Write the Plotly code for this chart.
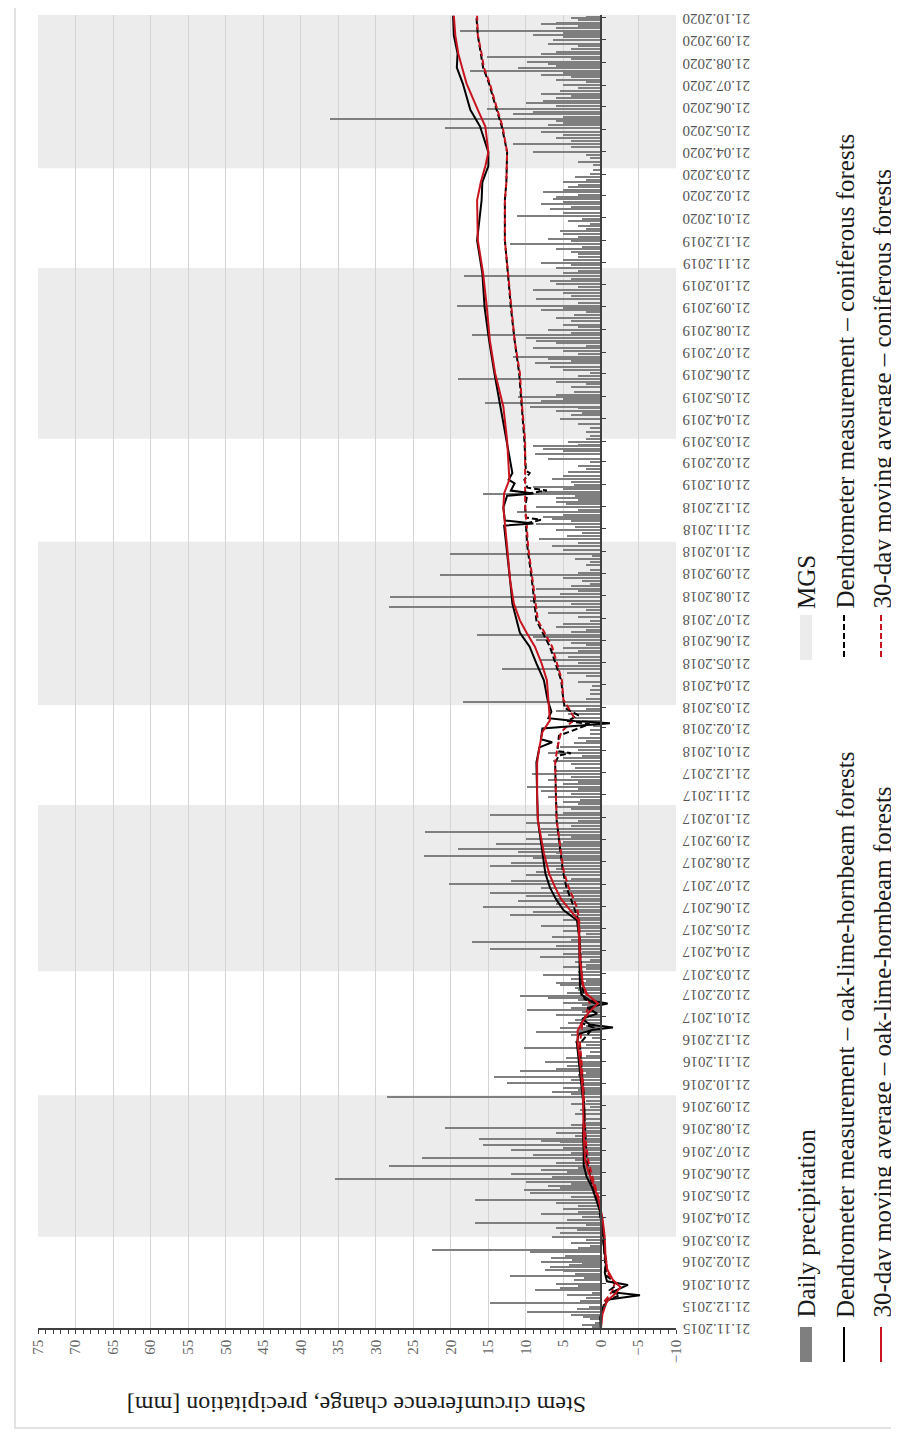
import plotly.graph_objects as go

FONT = "Liberation Serif, Times New Roman, serif"

# ---------------- data ----------------
mgs_start = ["2016-03-25", "2017-03-24", "2018-03-24", "2019-03-24", "2020-03-29"]
mgs_end = ["2016-10-05", "2017-11-07", "2018-11-03", "2019-11-13", "2020-10-25"]

# daily precipitation [mm]: "YYYY-MM day:mm day:mm ..."
precip_months = [
    "2015-11 23:1.2 26:2.5 28:0.8",
    "2015-12 3:1.5 6:2.4 9:4.0 13:9.8 17:3.2 20:1.6 25:14.8 29:2.8",
    "2016-01 2:2.0 5:4.5 8:1.2 12:8.8 15:5.5 18:3.0 21:6.0 26:3.6 29:2.2",
    "2016-02 1:12.1 4:3.5 7:5.0 9:7.5 13:6.8 16:4.2 18:2.5 20:8.0 22:3.8 25:6.7 28:4.8",
    "2016-03 4:9.4 7:22.5 10:3.0 13:1.5 17:4.0 21:2.0 25:6.5 30:5.5",
    "2016-04 3:3.2 7:6.0 10:2.0 13:16.8 17:4.5 21:2.5 25:8.0 28:3.0",
    "2016-05 3:5.0 7:3.0 11:6.0 15:16.8 19:4.0 24:9.5 28:10.3 31:5.5",
    "2016-06 3:7.0 6:4.0 9:10.0 13:35.4 16:6.5 19:12.0 22:4.5 25:8.0 28:3.0",
    "2016-07 1:28.3 5:6.0 8:3.5 11:23.8 15:9.0 18:4.0 22:12.0 25:5.0 29:15.7",
    "2016-08 2:5.5 4:8.0 7:16.3 11:3.5 14:6.0 17:2.5 21:20.8 25:4.0 29:2.2",
    "2016-09 3:2.0 9:3.5 15:2.8 19:1.5 24:4.0 28:2.0",
    "2016-10 3:28.5 7:4.0 10:6.5 13:3.0 16:5.0 19:2.5 22:12.5 26:4.0 30:14.3",
    "2016-11 2:3.0 5:2.0 8:10.8 11:6.0 14:4.5 17:3.0 20:7.5 25:4.6 28:2.0",
    "2016-12 3:1.5 9:10.3 13:2.0 18:3.5 23:1.2 27:4.0 31:8.6",
    "2017-01 3:3.0 6:5.5 9:2.0 12:4.4 16:3.5 20:1.5 24:6.0 27:2.5 30:9.8",
    "2017-02 2:4.0 6:2.5 9:5.0 13:3.0 16:7.0 19:10.8 23:4.5 26:3.0",
    "2017-03 2:3.5 5:5.5 8:6.0 11:2.0 14:4.0 19:7.7 23:3.0 27:2.0 30:5.0",
    "2017-04 2:2.0 6:3.5 9:1.5 13:8.1 17:5.0 20:2.5 24:14.8 28:6.0",
    "2017-05 3:17.2 6:4.0 10:6.5 14:2.0 18:5.0 22:2.8 26:8.0 30:3.0",
    "2017-06 2:5.0 5:3.0 9:12.1 13:9.0 16:4.0 20:15.7 24:6.0 28:11.0",
    "2017-07 2:6.0 5:10.0 9:14.8 13:5.0 17:8.0 22:20.3 26:12.0 29:4.0",
    "2017-08 3:10.0 7:8.6 11:6.0 16:14.8 20:12.0 24:5.0 27:9.0 30:23.6",
    "2017-09 2:6.0 4:11.0 8:19.0 12:8.0 15:14.0 18:5.0 21:10.0 24:4.0 27:7.0",
    "2017-10 1:23.4 5:8.0 9:4.0 13:10.0 17:3.0 20:6.0 24:14.8 28:5.0",
    "2017-11 2:4.0 5:6.0 8:3.0 11:5.0 14:2.8 18:7.0 22:4.0 26:8.0 29:3.0",
    "2017-12 2:9.8 6:5.0 9:3.0 12:7.0 15:4.0 20:9.2 24:6.0 28:3.5",
    "2018-01 3:4.0 7:6.4 11:5.0 14:2.5 18:7.0 22:3.0 26:5.5 31:3.6",
    "2018-02 3:2.0 7:3.0 13:1.5 18:1.5 23:1.0",
    "2018-03 3:2.5 7:3.5 12:4.4 16:6.0 19:2.0 23:5.0 28:18.4",
    "2018-04 2:2.0 9:1.5 14:1.5 19:1.2 25:3.0",
    "2018-05 3:2.0 7:4.5 13:13.2 17:6.0 21:3.0 25:8.0 29:4.4",
    "2018-06 3:6.5 7:3.0 11:5.0 14:2.0 17:4.0 21:8.6 25:9.0 28:16.5",
    "2018-07 2:4.0 5:2.0 9:6.0 14:5.1 18:1.5 23:3.0 28:7.0",
    "2018-08 2:2.0 6:28.3 10:4.0 14:9.5 19:28.1 23:5.5 27:3.0 31:8.6",
    "2018-09 3:4.0 6:1.5 10:2.5 14:5.0 18:21.4 22:3.0 26:1.5",
    "2018-10 2:2.0 6:1.5 10:3.5 14:1.2 18:20.1 23:5.0 28:6.5",
    "2018-11 2:3.0 7:8.2 11:4.5 15:2.5 19:6.0 23:3.5 28:8.6",
    "2018-12 2:4.0 4:6.5 7:7.7 10:5.0 14:11.2 17:3.0 21:8.6 25:4.7 28:6.0 31:3.0",
    "2019-01 2:6.0 5:3.5 8:15.7 11:8.0 14:5.0 17:9.0 20:3.6 24:4.0 28:6.5",
    "2019-02 2:5.0 7:4.4 11:2.0 15:3.0 20:1.5 25:7.0",
    "2019-03 4:8.8 7:5.0 11:7.7 14:9.0 16:3.0 20:4.4 24:2.0 28:1.5",
    "2019-04 3:2.0 8:1.5 13:3.0 21:5.5 26:4.0 29:2.5",
    "2019-05 2:6.0 5:3.0 7:9.5 12:15.4 15:8.0 18:5.0 21:11.0 24:6.0 28:3.6",
    "2019-06 3:4.0 7:2.0 10:6.0 14:19.0 18:3.0 22:1.5 27:5.0",
    "2019-07 1:6.8 6:8.8 9:4.0 12:7.0 15:11.7 19:3.0 23:5.0 27:9.0 30:2.0",
    "2019-08 2:6.0 6:8.6 9:10.0 13:17.2 17:4.0 20:7.0 24:3.0 28:5.0",
    "2019-09 2:4.0 6:6.0 10:3.6 14:2.0 17:8.0 20:5.0 23:19.2 27:3.0",
    "2019-10 2:8.6 6:4.0 10:5.0 14:9.0 18:3.0 22:6.0 27:6.8 30:4.0",
    "2019-11 3:18.3 6:5.0 9:3.0 13:6.0 17:4.0 21:8.0 25:5.0 28:3.0",
    "2019-12 2:3.0 5:4.0 9:6.0 12:2.5 16:12.1 20:4.0 23:7.0 26:3.0 30:5.0",
    "2020-01 3:5.5 6:2.0 10:3.0 13:1.5 17:4.4 20:2.5 24:11.2 28:5.0",
    "2020-02 2:6.8 5:4.0 9:8.0 12:5.0 16:6.4 19:6.0 22:3.0 25:7.7 28:5.0",
    "2020-03 3:4.4 6:3.0 10:5.0 13:2.0 17:3.5 22:1.5 27:1.0",
    "2020-04 2:1.0 7:3.0 12:1.5 16:2.0 21:9.0 27:4.0",
    "2020-05 2:11.7 6:4.0 10:6.0 14:5.0 18:8.0 23:20.8 27:7.0 30:5.0",
    "2020-06 2:6.0 5:36.1 8:5.0 12:11.7 15:9.0 19:15.2 22:6.0 26:10.0 30:7.7",
    "2020-07 3:6.0 6:4.0 9:8.0 13:5.5 17:3.0 21:5.0 25:2.0 28:6.0",
    "2020-08 1:4.0 4:8.0 7:5.0 10:17.4 13:11.0 16:6.0 19:7.0 22:9.9 26:4.0 29:15.2",
    "2020-09 2:8.0 5:6.0 9:4.0 13:3.0 16:7.0 21:6.4 25:5.0 28:9.0",
    "2020-10 1:5.0 4:18.8 7:6.0 10:3.0 13:8.0 15:6.0 18:3.0 21:4.0 23:2.0",
]

oak_meas_dates = [
    "2015-11-21", "2015-12-05", "2015-12-20", "2015-12-30", "2016-01-05", "2016-01-09",
    "2016-01-14", "2016-01-19", "2016-01-24", "2016-02-05", "2016-02-20", "2016-03-10",
    "2016-04-05", "2016-04-25", "2016-05-14", "2016-06-01", "2016-06-15", "2016-07-01",
    "2016-07-20", "2016-08-15", "2016-09-10", "2016-10-08", "2016-11-01", "2016-11-22",
    "2016-12-15", "2016-12-28", "2017-01-03", "2017-01-06", "2017-01-10", "2017-01-18",
    "2017-01-25", "2017-02-02", "2017-02-08", "2017-02-12", "2017-02-20", "2017-03-05",
    "2017-04-08", "2017-05-10", "2017-06-02", "2017-06-16", "2017-07-01", "2017-07-17",
    "2017-08-05", "2017-09-02", "2017-10-17", "2017-11-20", "2018-01-04", "2018-01-25",
    "2018-02-01", "2018-02-05", "2018-02-20", "2018-02-27", "2018-03-02", "2018-03-06",
    "2018-03-15", "2018-03-31", "2018-04-27", "2018-05-20", "2018-06-12", "2018-07-01",
    "2018-07-18", "2018-08-10", "2018-09-11", "2018-10-27", "2018-11-25", "2018-11-28",
    "2018-12-02", "2018-12-20", "2019-01-05", "2019-01-08", "2019-01-12", "2019-01-22",
    "2019-01-27", "2019-02-05", "2019-03-22", "2019-05-07", "2019-06-22", "2019-08-06",
    "2019-09-20", "2019-11-06", "2019-12-21", "2020-02-14", "2020-03-10", "2020-04-01",
    "2020-04-20", "2020-05-25", "2020-06-17", "2020-07-23", "2020-08-14", "2020-09-02",
    "2020-09-27", "2020-10-24",
]
oak_meas_mm = [
    0.0, 0.1, -0.3, -1.0, -5.2, -1.5,
    -2.5, -3.6, -0.8, -0.5, -0.7, -0.4,
    -0.3, 0.0, 0.6, 1.2, 1.9, 2.3,
    2.3, 2.4, 2.2, 2.5, 2.7, 2.9,
    3.2, 3.0, 1.0, -1.6, 1.5, 2.5,
    0.5, 1.8, -0.9, 1.5, 2.6, 2.8,
    2.8, 2.9, 3.2, 5.0, 6.0, 6.8,
    7.4, 7.8, 8.4, 8.5, 8.6, 8.2,
    6.5, 8.0, 7.8, -1.2, 3.5, 7.0,
    6.6, 7.1, 7.6, 8.6, 9.5, 10.8,
    11.2, 11.8, 12.1, 12.6, 12.9, 9.0,
    12.8, 13.0, 12.5, 9.0, 12.0, 11.5,
    12.3, 11.8, 12.6, 13.4, 14.2, 14.9,
    15.5, 15.8, 16.5, 15.9, 15.8, 15.0,
    15.0, 16.1, 17.4, 18.4, 19.2, 19.1,
    19.6, 19.7,
]

oak_ma_dates = [
    "2015-11-21", "2015-12-10", "2015-12-28", "2016-01-08", "2016-01-16", "2016-01-26",
    "2016-02-10", "2016-03-01", "2016-03-25", "2016-04-20", "2016-05-14", "2016-06-05",
    "2016-06-20", "2016-07-08", "2016-08-10", "2016-09-10", "2016-10-08", "2016-11-22",
    "2016-12-15", "2017-01-02", "2017-01-15", "2017-01-28", "2017-02-08", "2017-02-20",
    "2017-03-05", "2017-04-08", "2017-05-10", "2017-06-02", "2017-06-16", "2017-07-01",
    "2017-07-17", "2017-08-05", "2017-09-02", "2017-10-17", "2017-11-20", "2018-01-04",
    "2018-01-25", "2018-02-15", "2018-03-03", "2018-03-31", "2018-04-27", "2018-05-20",
    "2018-06-12", "2018-07-01", "2018-07-18", "2018-08-10", "2018-09-11", "2018-10-27",
    "2018-11-28", "2018-12-20", "2019-01-08", "2019-01-27", "2019-03-22", "2019-05-07",
    "2019-06-22", "2019-08-06", "2019-09-20", "2019-11-06", "2019-12-21", "2020-02-14",
    "2020-03-10", "2020-04-01", "2020-04-20", "2020-05-25", "2020-06-17", "2020-07-23",
    "2020-08-14", "2020-09-02", "2020-09-27", "2020-10-24",
]
oak_ma_mm = [
    0.0, -0.2, -0.8, -2.0, -2.6, -1.6,
    -0.8, -0.6, -0.5, -0.2, 0.3, 1.0,
    1.6, 2.1, 2.3, 2.3, 2.4, 2.8,
    3.1, 3.1, 2.4, 1.5, 0.4, 1.8,
    2.4, 2.8, 2.9, 3.0, 4.1, 5.3,
    6.1, 6.9, 7.6, 8.4, 8.5, 8.5,
    8.2, 7.8, 6.8, 7.0, 7.2, 7.9,
    8.8, 9.9, 10.8, 11.6, 12.1, 12.5,
    12.8, 13.0, 12.9, 12.2, 12.5, 13.0,
    14.1, 14.8, 15.2, 15.7, 16.4, 16.5,
    16.0, 15.4, 15.0, 15.4, 16.4, 17.9,
    18.5, 19.0, 19.4, 19.6,
]

con_meas_dates = [
    "2015-11-21", "2015-12-10", "2015-12-28", "2016-01-05", "2016-01-12", "2016-01-20",
    "2016-02-01", "2016-03-01", "2016-04-01", "2016-05-14", "2016-06-10", "2016-07-08",
    "2016-08-10", "2016-09-10", "2016-10-08", "2016-11-22", "2016-12-15", "2017-01-06",
    "2017-01-12", "2017-02-08", "2017-02-14", "2017-03-05", "2017-04-08", "2017-06-02",
    "2017-06-20", "2017-07-17", "2017-08-10", "2017-09-02", "2017-10-17", "2017-11-20",
    "2018-01-04", "2018-01-14", "2018-01-17", "2018-01-20", "2018-02-10", "2018-02-26",
    "2018-03-02", "2018-03-10", "2018-03-20", "2018-03-31", "2018-04-27", "2018-06-12",
    "2018-07-18", "2018-09-11", "2018-10-27", "2018-11-28", "2018-12-03", "2018-12-06",
    "2018-12-20", "2019-01-08", "2019-01-12", "2019-01-16", "2019-01-27", "2019-02-05",
    "2019-02-08", "2019-03-22", "2019-05-07", "2019-06-22", "2019-08-06", "2019-09-20",
    "2019-11-06", "2019-12-21", "2020-02-14", "2020-03-10", "2020-04-20", "2020-05-25",
    "2020-06-17", "2020-07-23", "2020-08-14", "2020-09-02", "2020-09-27", "2020-10-24",
]
con_meas_mm = [
    0.0, 0.0, -0.6, -2.5, -1.2, -2.2,
    -0.7, -0.5, -0.2, 0.4, 1.3, 1.9,
    2.1, 2.2, 2.3, 2.7, 2.8, 1.0,
    2.6, 0.8, 2.2, 2.5, 2.7, 3.0,
    3.6, 4.6, 5.1, 5.4, 5.9, 6.0,
    6.1, 5.6, 4.0, 5.8, 5.6, 1.5,
    4.5, 3.0, 4.8, 5.0, 5.3, 6.8,
    8.6, 9.2, 9.8, 10.0, 8.0, 10.0,
    10.1, 9.8, 7.2, 9.8, 10.2, 9.5,
    10.0, 10.2, 10.6, 10.9, 11.5, 12.0,
    12.4, 12.8, 12.8, 12.6, 12.5, 13.2,
    13.9, 14.9, 15.7, 16.0, 16.4, 16.6,
]

con_ma_dates = [
    "2015-11-21", "2015-12-10", "2015-12-28", "2016-01-10", "2016-01-20", "2016-02-05",
    "2016-03-01", "2016-04-01", "2016-05-14", "2016-06-10", "2016-07-08", "2016-08-10",
    "2016-09-10", "2016-10-08", "2016-11-22", "2016-12-15", "2017-01-10", "2017-02-08",
    "2017-03-05", "2017-04-08", "2017-06-02", "2017-06-20", "2017-07-17", "2017-08-10",
    "2017-09-02", "2017-10-17", "2017-11-20", "2018-01-04", "2018-01-25", "2018-02-15",
    "2018-03-05", "2018-03-20", "2018-03-31", "2018-04-27", "2018-06-12", "2018-07-18",
    "2018-09-11", "2018-10-27", "2018-11-28", "2018-12-20", "2019-01-27", "2019-03-22",
    "2019-05-07", "2019-06-22", "2019-08-06", "2019-09-20", "2019-11-06", "2019-12-21",
    "2020-02-14", "2020-03-10", "2020-04-20", "2020-05-25", "2020-06-17", "2020-07-23",
    "2020-08-14", "2020-09-02", "2020-09-27", "2020-10-24",
]
con_ma_mm = [
    0.0, -0.1, -0.5, -1.5, -1.8, -0.9,
    -0.5, -0.3, 0.2, 1.0, 1.7, 2.1,
    2.2, 2.3, 2.6, 2.8, 2.5, 1.5,
    2.4, 2.7, 2.9, 3.2, 4.3, 5.0,
    5.3, 5.9, 6.0, 6.1, 5.8, 5.3,
    3.5, 4.3, 5.0, 5.2, 6.5, 8.4,
    9.1, 9.7, 9.9, 10.1, 10.1, 10.1,
    10.5, 10.8, 11.5, 11.9, 12.4, 12.8,
    12.8, 12.6, 12.5, 13.1, 13.8, 14.8,
    15.6, 15.9, 16.4, 16.5,
]

x_tick_step = 5
date_start, date_end = "2015-11-21", "2020-10-25"
x_min, x_max = -10, 75

legend_labels = [
    "Daily precipitation",
    "Dendrometer measurement \u2013 oak-lime-hornbeam forests",
    "30-day moving average \u2013 oak-lime-hornbeam forests",
    "MGS",
    "Dendrometer measurement \u2013 coniferous forests",
    "30-day moving average \u2013 coniferous forests",
]
axis_title = "Stem circumference change, precipitation [mm]"

# ---------------- build ----------------
precip_dates, precip_mm = [], []
for rec in precip_months:
    parts = rec.split()
    ym = parts[0]
    for p in parts[1:]:
        d, v = p.split(":")
        precip_dates.append(f"{ym}-{int(d):02d}")
        precip_mm.append(float(v))

RED = "#c8141e"
GRAY_BAR = "#7f7f7f"
BAND = "#ececec"
GRID = "#d4d4d4"
DAY_MS = 86400000
DASH = "6px,3px"

fig = go.Figure()
fig.add_trace(go.Bar(x=precip_mm, y=precip_dates, orientation="h",
                     marker=dict(color=GRAY_BAR, line=dict(width=0)),
                     width=2 * DAY_MS, name=legend_labels[0]))
fig.add_trace(go.Scatter(x=con_meas_mm, y=con_meas_dates, mode="lines",
                         line=dict(color="black", width=2, dash=DASH), name=legend_labels[4]))
fig.add_trace(go.Scatter(x=con_ma_mm, y=con_ma_dates, mode="lines",
                         line=dict(color=RED, width=2, dash=DASH), name=legend_labels[5]))
fig.add_trace(go.Scatter(x=oak_meas_mm, y=oak_meas_dates, mode="lines",
                         line=dict(color="black", width=2), name=legend_labels[1]))
fig.add_trace(go.Scatter(x=oak_ma_mm, y=oak_ma_dates, mode="lines",
                         line=dict(color=RED, width=2), name=legend_labels[2]))
# helper trace for the date axis drawn at value 0
fig.add_trace(go.Scatter(x=[None], y=[None], yaxis="y2", showlegend=False, hoverinfo="skip"))

shapes = []
for s, e in zip(mgs_start, mgs_end):
    shapes.append(dict(type="rect", xref="x domain", yref="y", x0=0, x1=1, y0=s, y1=e,
                       fillcolor=BAND, line=dict(width=0), layer="below"))

# page offset (browser body margin) compensation
OFF = 8
W, H = 899 - OFF, 1434 - OFF
PL, PR, PT, PB = 38, 676, 15, 1328          # plot box in page pixels
ML, MT = PL - OFF, PT - OFF
MR, MB = W - (PR - OFF), H - (PB - OFF)
PW, PH = W - ML - MR, H - MT - MB


def px_x(px):
    return (px - OFF - ML) / PW


def px_y(py):
    return (H - MB - (py - OFF)) / PH


cols = [806, 845, 882]
row_tops = [1320, 611]
sw_rng = [(1327, 1362), (615, 660)]
annotations = []
for gi in range(2):
    for ci in range(3):
        annotations.append(dict(text=legend_labels[gi * 3 + ci], textangle=-90, xref="paper", yref="paper",
                                x=px_x(cols[ci]), y=px_y(row_tops[gi]), xanchor="center", yanchor="bottom",
                                showarrow=False, font=dict(family=FONT, size=25, color="#1a1a1a")))
    y0, y1 = px_y(sw_rng[gi][0]), px_y(sw_rng[gi][1])
    shapes.append(dict(type="rect", xref="paper", yref="paper", x0=px_x(cols[0] - 6), x1=px_x(cols[0] + 6),
                       y0=y0, y1=y1, fillcolor=GRAY_BAR if gi == 0 else BAND, line=dict(width=0)))
    shapes.append(dict(type="line", xref="paper", yref="paper", x0=px_x(cols[1] - 1), x1=px_x(cols[1] - 1),
                       y0=y0, y1=y1, line=dict(color="black", width=2, dash="solid" if gi == 0 else DASH)))
    shapes.append(dict(type="line", xref="paper", yref="paper", x0=px_x(cols[2] - 1), x1=px_x(cols[2] - 1),
                       y0=y0, y1=y1, line=dict(color=RED, width=2, dash="solid" if gi == 0 else DASH)))

annotations.append(dict(text=axis_title, textangle=180, xref="paper", yref="paper", x=0.5, y=px_y(1405),
                        xanchor="center", yanchor="middle", showarrow=False,
                        font=dict(family=FONT, size=24, color="#1a1a1a")))

# outer chart border
shapes.append(dict(type="rect", xref="paper", yref="paper", x0=px_x(15), x1=px_x(920), y0=px_y(1428),
                   y1=px_y(-20), line=dict(color="#d9d9d9", width=1.5), fillcolor="rgba(0,0,0,0)"))

fig.update_layout(
    width=W, height=H, margin=dict(l=ML, r=MR, t=MT, b=MB, autoexpand=False),
    paper_bgcolor="white", plot_bgcolor="white", showlegend=False, bargap=0,
    font=dict(family=FONT),
    xaxis=dict(range=[x_max, x_min], tick0=0, dtick=x_tick_step, showgrid=True, gridcolor=GRID, gridwidth=1,
               zeroline=False, showline=True, linecolor="#404040", linewidth=1.5, ticks="outside", ticklen=4,
               tickcolor="#404040", tickangle=-90, tickfont=dict(family=FONT, size=15, color="#666666"),
               automargin=False,
               minor=dict(dtick=1, ticks="outside", ticklen=4, tickcolor="#404040", showgrid=False)),
    yaxis=dict(type="date", range=[date_start, date_end], side="right", tickmode="linear", tick0=date_start,
               dtick="M1", tickformat="%d.%m.%Y", tickangle=180, showgrid=False, showline=False, zeroline=False,
               ticks="", ticklabelstandoff=73, ticklabelshift=6, ticklabeloverflow="allow",
               automargin=False, tickfont=dict(family=FONT, size=15, color="#555555")),
    yaxis2=dict(type="date", range=[date_start, date_end], overlaying="y", anchor="free",
                position=(x_max - 0) / (x_max - x_min), side="right", tickmode="linear", tick0=date_start,
                dtick="M1", showticklabels=False, ticks="outside", ticklen=4, tickcolor="#404040",
                showline=True, linecolor="#404040", linewidth=1.5, showgrid=False, zeroline=False,
                automargin=False),
    shapes=shapes, annotations=annotations,
)

fig.write_html("out.html")
